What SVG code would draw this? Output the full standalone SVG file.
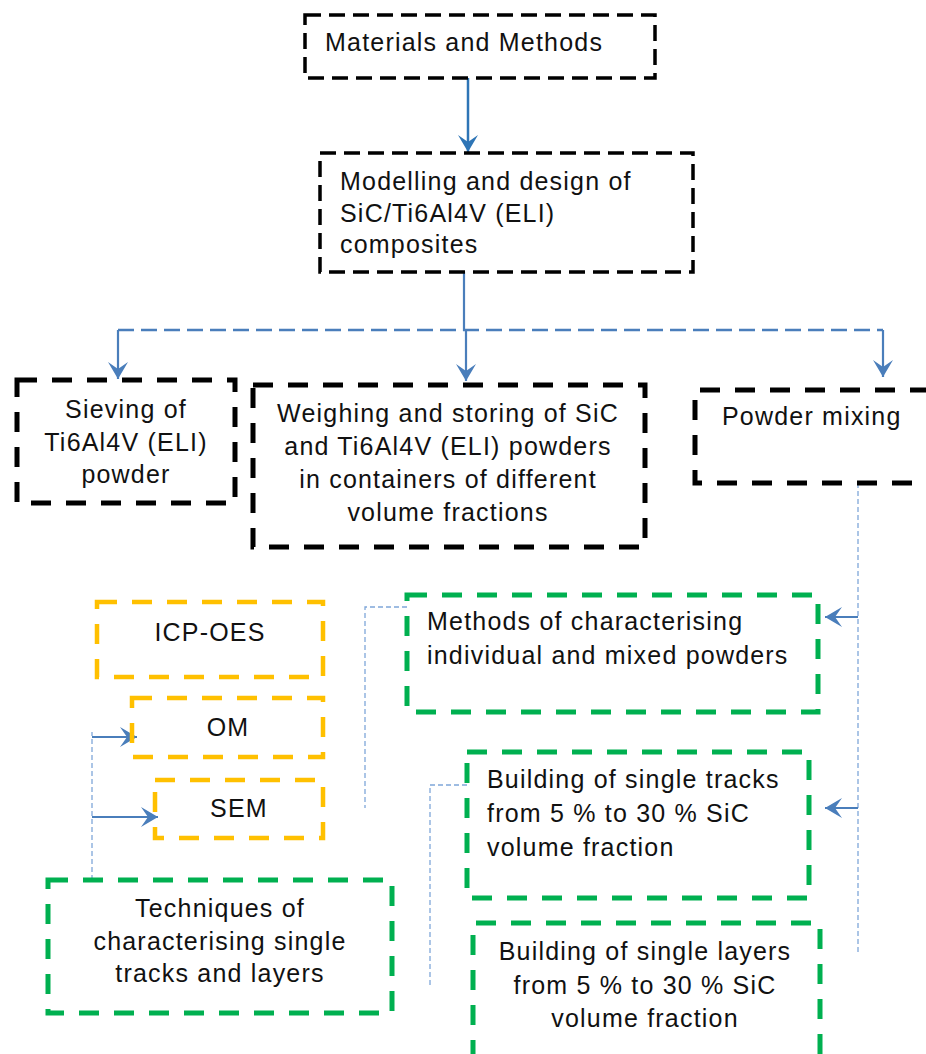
<svg xmlns="http://www.w3.org/2000/svg" width="926" height="1054" viewBox="0 0 926 1054">
<style>
text{font-family:"Liberation Sans",Arial,sans-serif;font-size:25px;letter-spacing:1.2px;fill:#111}
.c{text-anchor:middle}
.bk{fill:none;stroke:#000;stroke-width:3.5;stroke-dasharray:16 8}
.bk2{fill:none;stroke:#000;stroke-width:5;stroke-dasharray:20 15}
.yl{fill:none;stroke:#FFC000;stroke-width:4.5;stroke-dasharray:20 15}
.gr{fill:none;stroke:#00B050;stroke-width:5;stroke-dasharray:20 15}
.ar{fill:none;stroke:#4A7EBB;stroke-width:2.2;marker-end:url(#ah)}
.ar1{fill:none;stroke:#2E75B6;stroke-width:2.5;marker-end:url(#ah1)}
.dl{fill:none;stroke:#4A7EBB;stroke-width:2.5;stroke-dasharray:16 7}
.dt{fill:none;stroke:#7FA7D9;stroke-width:1.3;stroke-dasharray:5 3}
</style>
<defs>
<marker id="ah" markerUnits="userSpaceOnUse" markerWidth="20" markerHeight="22" refX="17" refY="10" orient="auto">
<path d="M0,0 L17,10 L0,20 L7,10 Z" fill="#4A7EBB"/>
</marker>
<marker id="ah1" markerUnits="userSpaceOnUse" markerWidth="20" markerHeight="22" refX="17" refY="10" orient="auto">
<path d="M0,0 L17,10 L0,20 L7,10 Z" fill="#2E75B6"/>
</marker>
</defs>
<g id="connectors">
<path class="ar1" d="M468,78 V152"/>
<path class="ar" d="M464,272 V330 H466 V381"/>
<path class="dl" d="M118,330 H883"/>
<path class="ar" d="M118,330 V379"/>
<path class="ar" d="M883,330 V377"/>
<path class="dt" d="M858,483 V952"/>
<path class="ar" d="M858,617 H825"/>
<path class="ar" d="M858,808 H825"/>
<path class="dt" d="M407,607 H365 V808"/>
<path class="dt" d="M467,785 H430 V988"/>
<path class="dt" d="M92,880 V732"/>
<path class="ar" d="M92,737 H137"/>
<path class="ar" d="M92,817 H158"/>
</g>
<g id="materials">
<rect class="bk" x="305" y="15" width="350" height="63"/>
<text x="325" y="51">Materials and Methods</text>
</g>
<g id="modelling">
<rect class="bk" x="320" y="153" width="373" height="119"/>
<text x="340" y="190">Modelling and design of</text>
<text x="340" y="222">SiC/Ti6Al4V (ELI)</text>
<text x="340" y="253">composites</text>
</g>
<g id="sieving">
<rect class="bk2" x="17" y="380" width="218" height="123"/>
<text class="c" x="126" y="418">Sieving of</text>
<text class="c" x="126" y="451">Ti6Al4V (ELI)</text>
<text class="c" x="126" y="483">powder</text>
</g>
<g id="weighing">
<rect class="bk2" x="253" y="385" width="392" height="162"/>
<text class="c" x="448" y="422">Weighing and storing of SiC</text>
<text class="c" x="448" y="455">and Ti6Al4V (ELI) powders</text>
<text class="c" x="448" y="488">in containers of different</text>
<text class="c" x="448" y="521">volume fractions</text>
</g>
<g id="mixing">
<path class="bk2" d="M930,390 H695 V483 H930"/>
<text x="722" y="425">Powder mixing</text>
</g>
<g id="methods">
<rect class="gr" x="407" y="595" width="411" height="117"/>
<text x="427" y="630">Methods of characterising</text>
<text x="427" y="664">individual and mixed powders</text>
</g>
<g id="tracks">
<rect class="gr" x="467" y="752" width="342" height="146"/>
<text x="487" y="788">Building of single tracks</text>
<text x="487" y="822">from 5 % to 30 % SiC</text>
<text x="487" y="856">volume fraction</text>
</g>
<g id="layers">
<path class="gr" d="M473,1060 V923 H820 V1060"/>
<text class="c" x="645" y="960">Building of single layers</text>
<text class="c" x="645" y="994">from 5 % to 30 % SiC</text>
<text class="c" x="645" y="1027">volume fraction</text>
</g>
<g id="icp">
<rect class="yl" x="97" y="602" width="226" height="75"/>
<text class="c" x="210" y="641">ICP-OES</text>
</g>
<g id="om">
<rect class="yl" x="132" y="698" width="191" height="59"/>
<text class="c" x="228" y="736">OM</text>
</g>
<g id="sem">
<rect class="yl" x="155" y="780" width="168" height="58"/>
<text class="c" x="239" y="817">SEM</text>
</g>
<g id="techniques">
<rect class="gr" x="48" y="880" width="344" height="133"/>
<text class="c" x="220" y="917">Techniques of</text>
<text class="c" x="220" y="950">characterising single</text>
<text class="c" x="220" y="982">tracks and layers</text>
</g>
</svg>
